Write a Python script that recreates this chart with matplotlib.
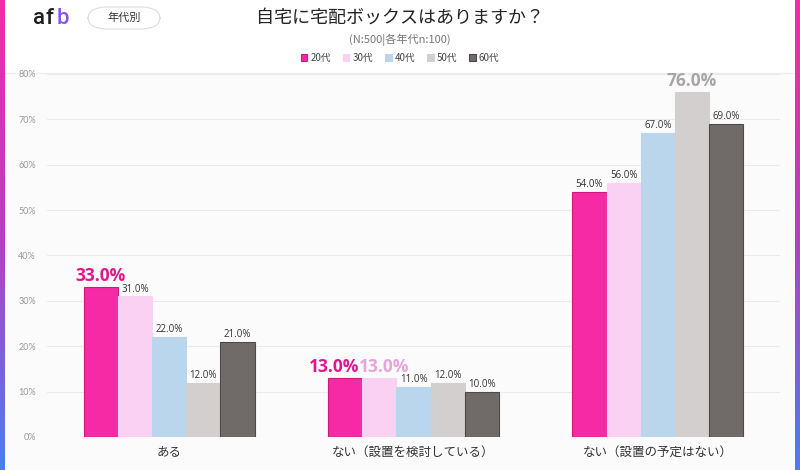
import numpy as np
import matplotlib.pyplot as plt
from matplotlib.patches import FancyBboxPatch, Rectangle
from matplotlib.colors import LinearSegmentedColormap

plt.rcParams['font.family'] = ['Noto Sans CJK JP', 'DejaVu Sans']

categories = ['ある', 'ない（設置を検討している）', 'ない（設置の予定はない）']
groups = ['20代', '30代', '40代', '50代', '60代']
values = [
    [33.0, 13.0, 54.0],
    [31.0, 13.0, 56.0],
    [22.0, 11.0, 67.0],
    [12.0, 12.0, 76.0],
    [21.0, 10.0, 69.0],
]
colors = ['#f72aa5', '#fad1f2', '#bad6ec', '#d3cfcf', '#706b69']
edges = ['#d0197f', '#fad1f2', '#bad6ec', '#d3cfcf', '#4e4a48']
# highlighted labels: (group, category) -> (colour, x shift)
highlight = {(0, 0): ('#e0158f', 0), (0, 1): ('#e0158f', -0.045),
             (1, 1): ('#e8a3da', 0.02), (3, 2): ('#a9a5a5', 0)}

fig = plt.figure(figsize=(8, 4.7), dpi=100)
fig.patch.set_facecolor('white')

# chart background below header
fig.patches.append(Rectangle((0, 0), 1, 1 - 74 / 470, transform=fig.transFigure,
                             facecolor='#fbfbfb', edgecolor='none', zorder=-5))
fig.add_artist(plt.Line2D([0, 1], [1 - 73 / 470] * 2, color='#eeeeee', lw=1, zorder=-4))

# gradient side borders
grad = np.linspace(0, 1, 256).reshape(-1, 1)
cmap = LinearSegmentedColormap.from_list('b', ['#f72aa5', '#b63fc0', '#4a7ef0'])
for x0 in [0, 795 / 800]:
    bax = fig.add_axes([x0, 0, 5 / 800, 1])
    bax.imshow(grad, aspect='auto', cmap=cmap)
    bax.axis('off')

ax = fig.add_axes([47 / 800, 33 / 470, 733 / 800, 363 / 470])
ax.set_facecolor('#fbfbfb')
x = np.arange(len(categories))
w = 0.14
for i, g in enumerate(groups):
    pos = x + (i - 2) * w
    ax.bar(pos, values[i], w, color=colors[i], edgecolor=edges[i], lw=0.8, label=g, zorder=3)
    for j, v in enumerate(values[i]):
        if (i, j) in highlight:
            c, dx = highlight[(i, j)]
            ax.text(pos[j] + dx, v + 0.4, f'{v:.1f}%', ha='center', va='bottom', fontsize=12.5,
                    fontweight='bold', color=c, family='Open Sans', zorder=4)
        else:
            ax.text(pos[j], v + 0.4, f'{v:.1f}%', ha='center', va='bottom', fontsize=7,
                    color='#333333', family='Open Sans', zorder=4)

ax.set_xlim(-0.5, 2.5)
ax.set_ylim(0, 80)
ax.set_yticks(range(0, 81, 10))
ax.set_yticklabels([f'{t}%' for t in range(0, 81, 10)], fontsize=6.5, color='#999999', family='Lato')
ax.set_xticks(x)
ax.set_xticklabels(categories, fontsize=9, color='#333333')
ax.tick_params(length=0, pad=8)
ax.tick_params(axis='x', pad=6)
ax.grid(axis='y', color='#eaeaea', lw=0.8, zorder=0)
for s in ax.spines.values():
    s.set_visible(False)

fig.text(0.5, 1 - 18 / 470, '自宅に宅配ボックスはありますか？', ha='center', va='center',
         fontsize=13, color='#222222')
fig.text(0.5, 1 - 40 / 470, '(N:500|各年代n:100)', ha='center', va='center',
         fontsize=8, color='#777777')
leg = fig.legend(loc='center', bbox_to_anchor=(0.5, 1 - 58 / 470), ncol=5, frameon=False,
                 fontsize=7, handlelength=0.7, handleheight=0.7, handletextpad=0.3,
                 columnspacing=1.2)
for t in leg.get_texts():
    t.set_color('#444444')

# logo and tag
for ch, xp, col in [('a', 33, '#1e1e1e'), ('f', 46, '#1e1e1e'), ('b', 57, '#8a55e0')]:
    fig.text(xp / 800, 1 - 19 / 470, ch, ha='left', va='center', fontsize=16,
             color=col, family='Roboto', fontweight='medium')
fig.patches.append(FancyBboxPatch((88 / 800, 1 - 29 / 470), 72 / 800, 22 / 470,
                                  boxstyle='round,pad=0,rounding_size=0.025',
                                  transform=fig.transFigure, facecolor='white',
                                  edgecolor='#dddddd', lw=0.8))
fig.text(124 / 800, 1 - 18 / 470, '年代別', ha='center', va='center', fontsize=8, color='#333333')

fig.savefig('out.png', dpi=100)
